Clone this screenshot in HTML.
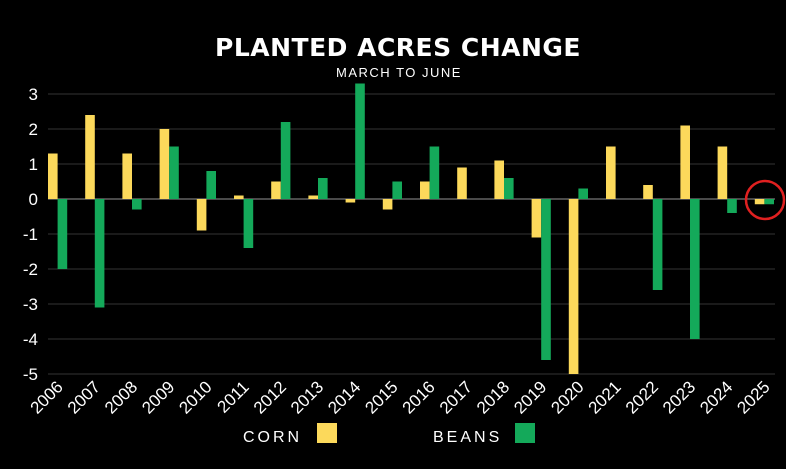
<!DOCTYPE html><html><head><style>body{margin:0;background:#000}svg{display:block}</style></head><body>
<svg width="786" height="469" viewBox="0 0 786 469" xmlns="http://www.w3.org/2000/svg" font-family="Liberation Sans, sans-serif">
<rect width="786" height="469" fill="#000"/>
<text x="398" y="56" text-anchor="middle" fill="#fff" font-size="25" font-weight="900" style="font-family:'DejaVu Sans',sans-serif" letter-spacing="0.5">PLANTED ACRES CHANGE</text>
<text x="399" y="77" text-anchor="middle" fill="#fff" font-size="13" letter-spacing="1.5">MARCH TO JUNE</text>
<g stroke="#333" stroke-width="1">
<line x1="48" x2="775" y1="94" y2="94"/><line x1="48" x2="775" y1="129" y2="129"/><line x1="48" x2="775" y1="164" y2="164"/>
<line x1="48" x2="775" y1="234" y2="234"/><line x1="48" x2="775" y1="269" y2="269"/><line x1="48" x2="775" y1="304" y2="304"/><line x1="48" x2="775" y1="339" y2="339"/><line x1="48" x2="775" y1="374" y2="374"/>
</g>
<line x1="48" x2="775" y1="199" y2="199" stroke="#777" stroke-width="1.2"/>
<g fill="#fff" font-size="17" text-anchor="end">
<text x="38" y="100">3</text><text x="38" y="135">2</text><text x="38" y="170">1</text><text x="38" y="205">0</text><text x="38" y="240">-1</text><text x="38" y="275">-2</text><text x="38" y="310">-3</text><text x="38" y="345">-4</text><text x="38" y="380">-5</text>
</g>
<g id="bars"></g>
<g id="labels" fill="#fff" font-size="17"></g>
<circle cx="765" cy="200" r="19" fill="none" stroke="#e02020" stroke-width="2.5"/>
<text x="243" y="442" fill="#fff" font-size="16" letter-spacing="3">CORN</text>
<rect x="317" y="423" width="20" height="20" fill="#fcd95b"/>
<text x="433" y="442" fill="#fff" font-size="16" letter-spacing="3">BEANS</text>
<rect x="515" y="423" width="20" height="20" fill="#14a95a"/>
<script>
var c=[1.3,2.4,1.3,2.0,-0.9,0.1,0.5,0.1,-0.1,-0.3,0.5,0.9,1.1,-1.1,-5.0,1.5,0.4,2.1,1.5,-0.15];
var b=[-2.0,-3.1,-0.3,1.5,0.8,-1.4,2.2,0.6,3.3,0.5,1.5,0,0.6,-4.6,0.3,0,-2.6,-4.0,-0.4,-0.15];
var ns="http://www.w3.org/2000/svg",g=document.getElementById("bars"),L=document.getElementById("labels");
function r(x,v,col){if(!v)return;var e=document.createElementNS(ns,"rect");var y0=199,y=199-v*35;e.setAttribute("x",x);e.setAttribute("width",9.6);e.setAttribute("y",Math.min(y,y0));e.setAttribute("height",Math.abs(y-y0));e.setAttribute("fill",col);g.appendChild(e);}
for(var i=0;i<20;i++){var x=48+i*37.2;r(x,c[i],"#fcd95b");r(x+9.6,b[i],"#14a95a");
var t=document.createElementNS(ns,"text");var cx=x+16,cy=388;t.setAttribute("x",cx);t.setAttribute("y",cy);t.setAttribute("text-anchor","end");t.setAttribute("transform","rotate(-45 "+cx+" "+cy+")");t.textContent=2006+i;L.appendChild(t);}
</script>
</svg></body></html>
